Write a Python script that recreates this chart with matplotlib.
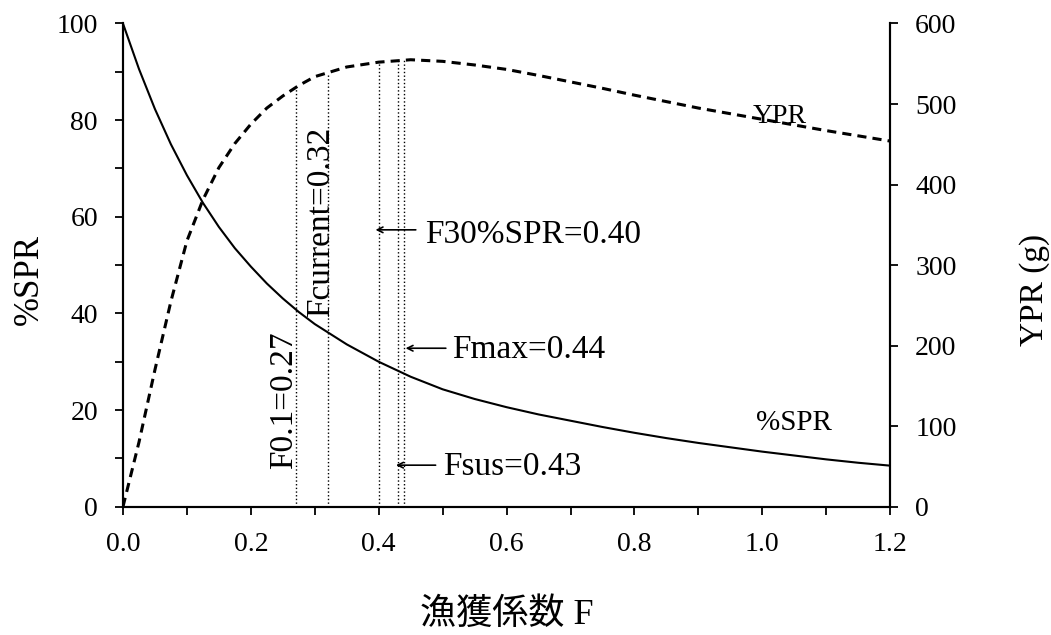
import matplotlib
matplotlib.use('Agg')
import matplotlib.pyplot as plt
from matplotlib.ticker import MultipleLocator

plt.rcParams['font.family'] = ['Liberation Serif', 'Noto Sans CJK JP']

# %SPR 曲線
F_spr = [0.0, 0.025, 0.05, 0.075, 0.1, 0.125, 0.15, 0.175, 0.2, 0.225, 0.25,
         0.275, 0.3, 0.35, 0.4, 0.45, 0.5, 0.55, 0.6, 0.65, 0.7, 0.75, 0.8,
         0.85, 0.9, 0.95, 1.0, 1.05, 1.1, 1.15, 1.2]
spr = [100, 90.6, 82.3, 75.0, 68.6, 62.9, 57.9, 53.5, 49.7, 46.2, 43.1,
       40.3, 37.8, 33.6, 30.0, 26.9, 24.3, 22.3, 20.6, 19.1, 17.8, 16.5, 15.3,
       14.2, 13.2, 12.3, 11.4, 10.6, 9.8, 9.1, 8.5]

# YPR 曲線 (g)
F_ypr = [0.0, 0.025, 0.05, 0.075, 0.1, 0.125, 0.15, 0.175, 0.2, 0.225, 0.25,
         0.275, 0.3, 0.35, 0.4, 0.45, 0.5, 0.55, 0.6, 0.65, 0.7, 0.75, 0.8,
         0.85, 0.9, 0.95, 1.0, 1.05, 1.1, 1.15, 1.2]
ypr = [0, 80, 170, 255, 330, 381, 421, 451, 475, 495, 510,
       523, 534, 546, 552, 555, 553, 548.5, 543, 535.5, 527.5, 519.5, 511,
       503, 495, 488, 481, 474, 467, 460.5, 454]

# 参照点
ref_F = [0.27, 0.32, 0.40, 0.43, 0.44]
ref_ypr = [521, 537, 552, 555, 555]

fig = plt.figure(figsize=(10.51, 6.35), dpi=100)
ax = fig.add_subplot(111)
fig.subplots_adjust(left=0.117, right=0.847, top=0.963, bottom=0.202)
ax2 = ax.twinx()

ax.plot(F_spr, spr, color='black', lw=1.5)
ax2.plot(F_ypr, ypr, color='black', lw=2.2, ls=(0, (3, 2)))

for f, y in zip(ref_F, ref_ypr):
    ax2.plot([f, f], [0, y], color='black', lw=1, ls=':')

ax.set_xlim(0, 1.2)
ax.set_ylim(0, 100)
ax2.set_ylim(0, 600)

ax.xaxis.set_minor_locator(MultipleLocator(0.1))
ax.yaxis.set_major_locator(MultipleLocator(20))
ax.yaxis.set_minor_locator(MultipleLocator(10))
ax2.yaxis.set_major_locator(MultipleLocator(100))
ax.set_xticks([0, 0.2, 0.4, 0.6, 0.8, 1.0, 1.2])
ax.set_xticklabels(['0.0', '0.2', '0.4', '0.6', '0.8', '1.0', '1.2'])

for a in (ax, ax2):
    a.spines['top'].set_visible(False)
    for s in a.spines.values():
        s.set_linewidth(1.5)
    a.tick_params(which='both', direction='out', length=6, width=1.3,
                  labelsize=20, pad=12)

ax.set_xlabel('漁獲係数 F', fontsize=26, labelpad=30)
ax.set_ylabel('%SPR', fontsize=25)
ax.yaxis.set_label_coords(-0.101, 0.471)
ax2.set_ylabel('YPR (g)', fontsize=24)
ax2.yaxis.set_label_coords(1.168, 0.448)

ann = 24
ax.text(0.252, 22, 'F0.1=0.27', rotation=90, ha='center', va='center', fontsize=ann)
ax.text(0.309, 59, 'Fcurrent=0.32', rotation=90, ha='center', va='center', fontsize=ann)

arrow = dict(arrowstyle='->', lw=1.2, color='black', shrinkA=0, shrinkB=0)
ax.annotate('', xy=(0.395, 57.3), xytext=(0.458, 57.3), arrowprops=arrow)
ax.text(0.473, 56.2, 'F30%SPR=0.40', ha='left', va='center', fontsize=ann)
ax.annotate('', xy=(0.442, 32.8), xytext=(0.505, 32.8), arrowprops=arrow)
ax.text(0.515, 32.4, 'Fmax=0.44', ha='left', va='center', fontsize=ann)
ax.annotate('', xy=(0.427, 8.6), xytext=(0.489, 8.6), arrowprops=arrow)
ax.text(0.5, 8.3, 'Fsus=0.43', ha='left', va='center', fontsize=ann)

ax.text(1.028, 80.7, 'YPR', ha='center', va='center', fontsize=20)
ax.text(1.05, 17.3, '%SPR', ha='center', va='center', fontsize=21)

fig.savefig('out.png', dpi=100)
